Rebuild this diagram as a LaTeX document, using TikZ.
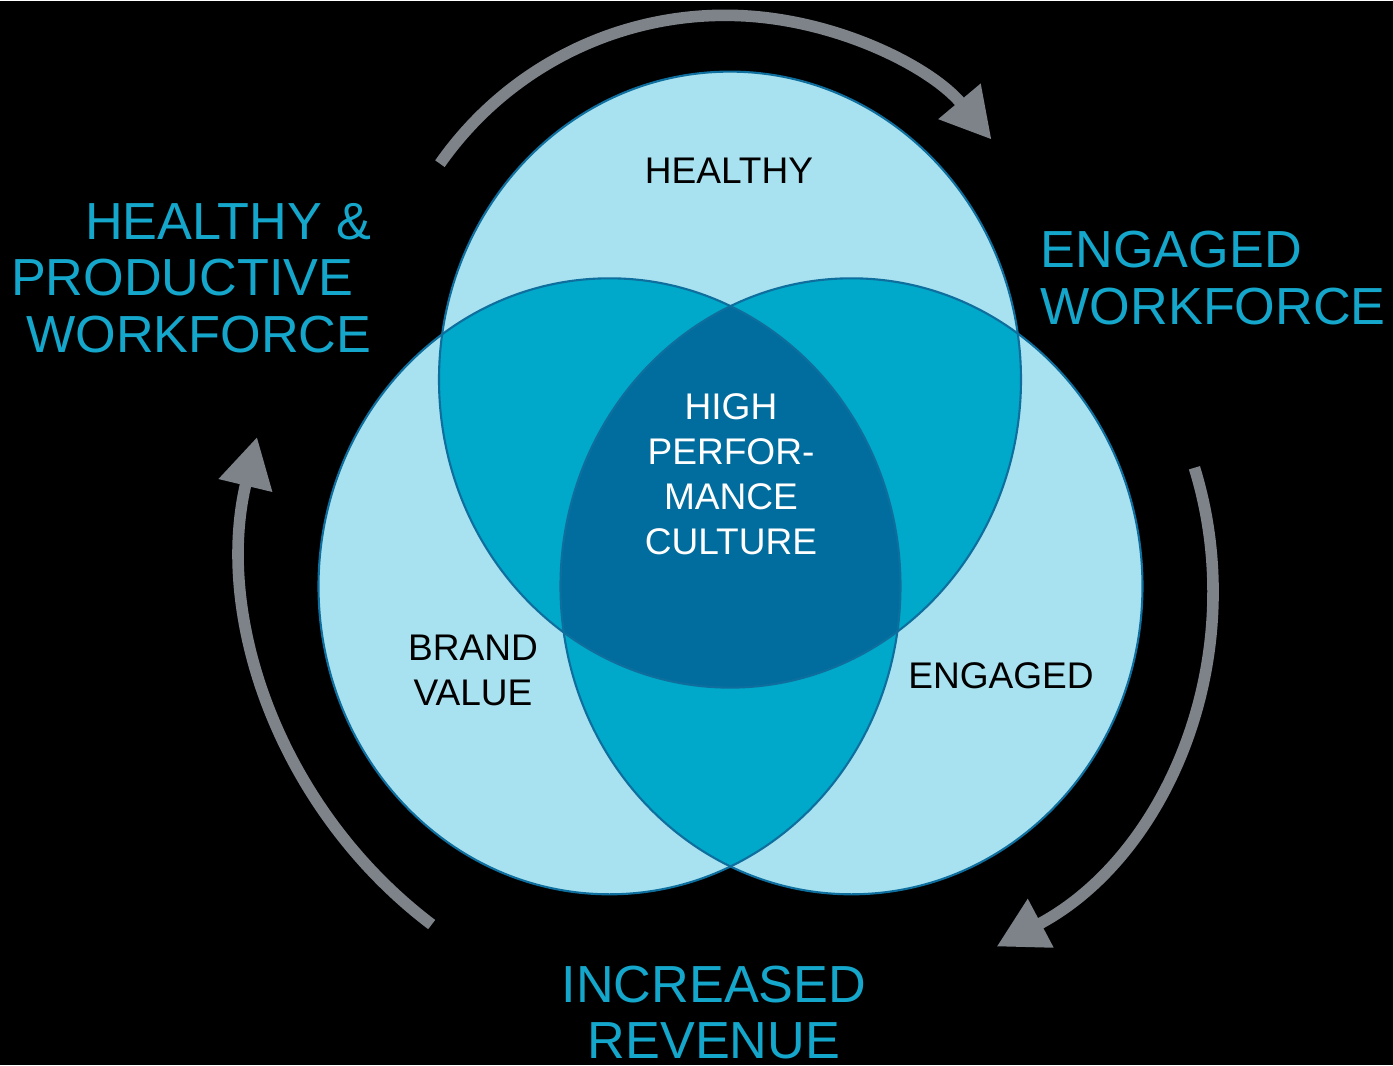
\documentclass[tikz,border=0pt]{standalone}
\usepackage{fontspec}
\setmainfont{Liberation Sans}
\usetikzlibrary{arrows.meta}

\definecolor{vennlight}{HTML}{A8E2F0}
\definecolor{vennmid}{HTML}{00A9C9}
\definecolor{venndark}{HTML}{006D9E}
\definecolor{vennedge}{HTML}{0E6E9E}
\definecolor{labelcyan}{HTML}{14A7CB}
\definecolor{arrowgray}{HTML}{7D8389}

\begin{document}
\begin{tikzpicture}[
    blob/.style={x radius=2.91, y radius=3.08},
    cyclearrow/.style={draw=arrowgray, line width=3.3pt, -{Triangle[length=5mm, width=5.2mm]}},
    biglabel/.style={text=labelcyan, font=\fontsize{14.85}{16.1}\selectfont, inner sep=0pt},
    inlabel/.style={font=\fontsize{10.55}{12.8}\selectfont, inner sep=0pt, align=center}
]
    % Fondo
    \fill[black] (0,0) rectangle (13.93,10.64);

    % Centros de los tres circulos
    \coordinate (healthyc) at (7.30,6.857);
    \coordinate (brandc) at (6.095,4.79);
    \coordinate (engagedc) at (8.515,4.79);

    % Circulos
    \foreach \c in {healthyc,brandc,engagedc} {
        \fill[vennlight] (\c) ellipse [blob];
    }

    % Intersecciones de dos
    \begin{scope}
        \clip (healthyc) ellipse [blob];
        \fill[vennmid] (brandc) ellipse [blob];
        \fill[vennmid] (engagedc) ellipse [blob];
    \end{scope}
    \begin{scope}
        \clip (brandc) ellipse [blob];
        \fill[vennmid] (engagedc) ellipse [blob];
    \end{scope}

    % Interseccion de los tres
    \begin{scope}
        \clip (healthyc) ellipse [blob];
        \clip (brandc) ellipse [blob];
        \fill[venndark] (engagedc) ellipse [blob];
    \end{scope}

    % Bordes
    \foreach \c in {healthyc,brandc,engagedc} {
        \draw[vennedge, line width=0.6pt] (\c) ellipse [blob];
    }

    % Flechas del ciclo
    \coordinate (topc) at (7.25,7.02);
    \coordinate (rightc) at (8.066,4.775);
    \coordinate (leftc) at (7.17,5.18);
    \draw[cyclearrow] (topc) ++(145:3.48) arc[start angle=145, end angle=40, radius=3.48];
    \draw[cyclearrow] (rightc) ++(17.2:4.06) arc[start angle=17.2, end angle=-62.1, radius=4.06];
    \draw[cyclearrow] (leftc) ++(232.9:4.73) arc[start angle=232.9, end angle=166.5, radius=4.73];

    % Textos dentro (base = ultima linea)
    \node[inlabel, anchor=base] (healthy) at (7.29,8.82) {HEALTHY};
    \node[inlabel, anchor=base] (brand) at (4.73,3.60) {BRAND\\VALUE};
    \node[inlabel, anchor=base] (engaged) at (10.01,3.773) {ENGAGED};
    \node[inlabel, anchor=base, text=white] (culture) at (7.31,5.113) {HIGH\\PERFOR-\\MANCE\\CULTURE};

    % Textos fuera
    \node[biglabel, align=right, anchor=base east] (productive) at (3.72,7.13) {HEALTHY \&\\PRODUCTIVE\hspace*{0.18cm}\null\\WORKFORCE};
    \node[biglabel, align=left, anchor=base west] (workforce) at (10.40,7.413) {ENGAGED\\WORKFORCE};
    \node[biglabel, align=center, anchor=base] (revenue) at (7.14,0.067) {INCREASED\\REVENUE};
\end{tikzpicture}
\end{document}
